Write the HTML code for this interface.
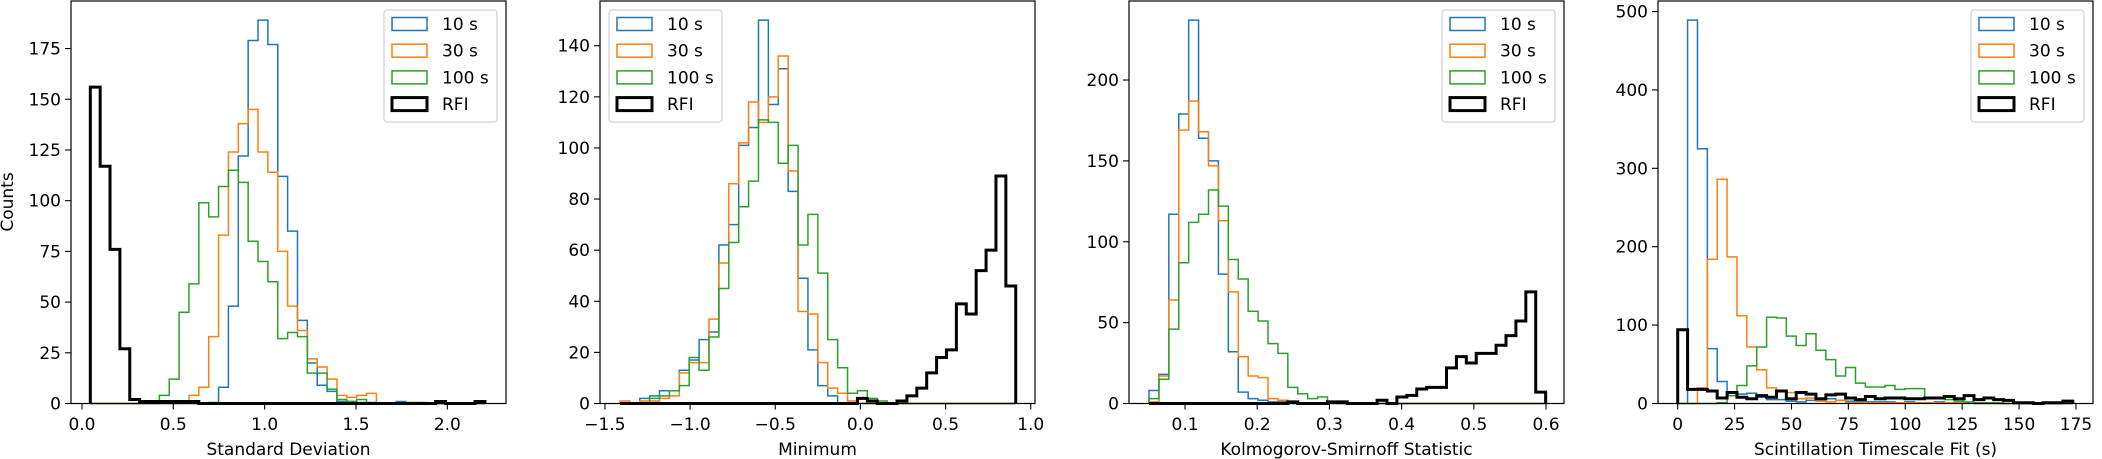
<!DOCTYPE html>
<html><head><meta charset="utf-8">
<style>
html,body{margin:0;padding:0;background:#fff;}
svg{display:block;font-family:"DejaVu Sans","Liberation Sans",sans-serif;}
</style></head>
<body>
<svg id="chart" width="2102" height="459" viewBox="0 0 2102 459" xmlns="http://www.w3.org/2000/svg"></svg>
<script>
// ---------- Panel 1: Standard Deviation ----------
const p1BinStart = 0.0457, p1BinWidth = 0.054;
const p1Blue   = [0,0,0,0,0,0,0,0,0,0,0,0,0.5,8,48,122,179,189,177,112,85,41,20,9,6,1,1,0.5,0.5,0,0,1,0,0,0,0,0,0,0,0];
const p1Orange = [0,0,0,0,0,0,0,0,0,0,4,8,33,83,124,138,145,124,114,75,48,36,22,18,12,4,3,4,5,0,0,0,0,0,0,0,0,0,0,0];
const p1Green  = [0,0,0,0,0,0,0,4,12,45,59,99,92,107,115,109,80,70,60,32,35,33,15,15,7,2,1,2,0,0,0,0,0.5,0.5,0,0,0,0,0,0];
const p1Rfi    = [156,117,76,27,2,1,1,1,1,1,1,0,0,0,0,0,0,0,0,0,0,0,0,0,0,0,0,0,0,0,0,0,0,0,0,1,0,0,0,1];
const p1XTicks = [0.0,0.5,1.0,1.5,2.0];
const p1XTickLabels = ["0.0","0.5","1.0","1.5","2.0"];
const p1YTicks = [0,25,50,75,100,125,150,175];

// ---------- Panel 2: Minimum ----------
const p2BinStart = -1.412, p2BinWidth = 0.0581;
const p2Blue   = [0,0,2,3,5,5,13,17,25,28,62,70,101,108,150,117,131,83,49,21,7,3,0,0,0,0,0,0,0,0,0,0,0,0,0,0,0,0,0,0];
const p2Orange = [1,0,1,1,2,3,12,16,16,33,55,86,102,118,110,120,136,91,36,35,16,6,4,1,0,0,0,0,0,0,0,0,0,0,0,0,0,0,0,0];
const p2Green  = [0,0,0,2,3,5,7,18,13,26,45,63,77,87,111,110,94,101,62,74,51,25,14,4,5,2,1,0,0,0,0,0,0,0,0,0,0,0,0,0];
const p2Rfi    = [0,0,0,0,0,0,0,0,0,0,0,0,0,0,0,0,0,0,0,0,0,0,0,0,2,1,0,0,1,3,6,12,18,21,39,35,52,60,89,46];
const p2XTicks = [-1.5,-1.0,-0.5,0.0,0.5,1.0];
const p2XTickLabels = ["\u22121.5","\u22121.0","\u22120.5","0.0","0.5","1.0"];
const p2YTicks = [0,20,40,60,80,100,120,140];

// ---------- Panel 3: KS statistic ----------
const p3BinStart = 0.0501, p3BinWidth = 0.013735;
const p3Blue   = [8,18,117,179,237,164,150,80,32,7,3,2,1,1,0,0,0,0,0,0,0,0,0,0,0,0,0,0,0,0,0,0,0,0,0,0,0,0,0,0];
const p3Orange = [1,17,64,169,187,168,147,113,69,29,17,16,3,2,1,0,0,0,0,0,0,0,0,0,0,0,0,0,0,0,0,0,0,0,0,0,0,0,0,0];
const p3Green  = [3,15,46,87,112,117,132,122,89,77,57,51,37,31,10,6,3,4,1,0,0,0,0,0,0,0,0,0,0,0,0,0,0,0,0,0,0,0,0,0];
const p3Rfi    = [0,0,0,0,0,0,0,0,0,0,0,0,0,0,1,0,0,0,1,1,0,0,0,2,0,4,5,9,10,10,22,29,25,31,31,36,42,51,69,7];
const p3XTicks = [0.1,0.2,0.3,0.4,0.5,0.6];
const p3XTickLabels = ["0.1","0.2","0.3","0.4","0.5","0.6"];
const p3YTicks = [0,50,100,150,200];

// ---------- Panel 4: Scintillation timescale ----------
const p4BinStart = 0, p4BinWidth = 4.34;
const p4Blue   = [0,489,325,70,28,14,12,13,8,5,5,3,2,4,5,6,4,3,3,2,2,2,1,2,1,1,2,1,1,1,0,1,0,0,0,0,0,0,0,0];
const p4Orange = [0,0,20,184,286,187,112,72,43,20,15,14,6,7,3,2,4,1,1,1,1,1,1,1,1,1,1,1,1,1,0,0,0,0,0,0,0,0,0,0];
const p4Green  = [0,0,0,0,1,10,23,48,72,110,109,86,74,89,68,56,35,46,26,21,21,23,18,19,19,6,7,5,3,2,1,1,1,0,0,0,0,0,0,0];
const p4Rfi    = [94,18,18,16,7,14,8,6,10,8,16,6,14,12,6,11,12,7,5,9,6,7,7,6,6,7,7,9,6,10,5,7,5,4,1,1,0,1,1,3];
const p4XTicks = [0,25,50,75,100,125,150,175];
const p4XTickLabels = ["0","25","50","75","100","125","150","175"];
const p4YTicks = [0,100,200,300,400,500];

const legendLabels = ["10 s","30 s","100 s","RFI"];

const NS = "http://www.w3.org/2000/svg";
const svg = document.getElementById("chart");
const COLORS = ["#1f77b4","#ff7f0e","#2ca02c","#000000"];
const WIDTHS = [1.5,1.5,1.5,3];
const SERIES_NAMES = ["series-10s","series-30s","series-100s","series-rfi"];

function mk(tag, attrs, parent){
  const e = document.createElementNS(NS, tag);
  for (const k in attrs) e.setAttribute(k, attrs[k]);
  (parent||svg).appendChild(e);
  return e;
}

const panels = [
  {name:"std-dev-panel", left:71, xmin:-0.060, xmax:2.321, start:p1BinStart, w:p1BinWidth, series:[p1Blue,p1Orange,p1Green,p1Rfi], xt:p1XTicks, xtl:p1XTickLabels, yt:p1YTicks, xlabel:"Standard Deviation", ylabel:"Counts", legendLeft:false},
  {name:"minimum-panel", left:600, xmin:-1.529, xmax:1.025, start:p2BinStart, w:p2BinWidth, series:[p2Blue,p2Orange,p2Green,p2Rfi], xt:p2XTicks, xtl:p2XTickLabels, yt:p2YTicks, xlabel:"Minimum", ylabel:null, legendLeft:true},
  {name:"ks-statistic-panel", left:1129, xmin:0.0224, xmax:0.6249, start:p3BinStart, w:p3BinWidth, series:[p3Blue,p3Orange,p3Green,p3Rfi], xt:p3XTicks, xtl:p3XTickLabels, yt:p3YTicks, xlabel:"Kolmogorov-Smirnoff Statistic", ylabel:null, legendLeft:false},
  {name:"timescale-panel", left:1658, xmin:-8.66, xmax:182.5, start:p4BinStart, w:p4BinWidth, series:[p4Blue,p4Orange,p4Green,p4Rfi], xt:p4XTicks, xtl:p4XTickLabels, yt:p4YTicks, xlabel:"Scintillation Timescale Fit (s)", ylabel:null, legendLeft:false}
];

const TOP = 1, BOTTOM = 403.5, W = 435;

panels.forEach(p => {
  const g = mk("g", {});
  
  
  let maxv = 0;
  p.series.forEach(s => s.forEach(v => { if (v > maxv) maxv = v; }));
  const ymax = maxv * 1.05;
  const X = v => p.left + (v - p.xmin) / (p.xmax - p.xmin) * W;
  const Y = v => BOTTOM - v / ymax * (BOTTOM - TOP);

  // series
  p.series.forEach((s, si) => {
    let d = "M" + X(p.start).toFixed(2) + "," + Y(0).toFixed(2);
    for (let i = 0; i < s.length; i++) {
      const x0 = X(p.start + i * p.w), x1 = X(p.start + (i + 1) * p.w);
      d += " L" + x0.toFixed(2) + "," + Y(s[i]).toFixed(2) + " L" + x1.toFixed(2) + "," + Y(s[i]).toFixed(2);
    }
    d += " L" + X(p.start + s.length * p.w).toFixed(2) + "," + Y(0).toFixed(2);
    const path = mk("path", {d:d, fill:"none", stroke:COLORS[si], "stroke-width":WIDTHS[si], "stroke-linejoin":"miter"}, g);
    
    
  });

  // frame
  const frame = mk("rect", {x:p.left, y:TOP, width:W, height:BOTTOM-TOP, fill:"none", stroke:"#000", "stroke-width":1.2}, g);
  
  

  // x ticks
  p.xt.forEach((t, i) => {
    const x = X(t);
    const tk = mk("line", {x1:x, x2:x, y1:BOTTOM, y2:BOTTOM+6, stroke:"#000", "stroke-width":1.1}, g);
    
    
    const tl = mk("text", {x:x, y:430, "text-anchor":"middle", "font-size":"17"}, g);
    tl.textContent = p.xtl[i];
    
    
  });
  // y ticks
  p.yt.forEach(t => {
    const y = Y(t);
    const tk = mk("line", {x1:p.left-6, x2:p.left, y1:y, y2:y, stroke:"#000", "stroke-width":1.1}, g);
    
    
    const tl = mk("text", {x:p.left-10, y:y+6, "text-anchor":"end", "font-size":"17"}, g);
    tl.textContent = String(t);
    
    
  });
  // x label
  const xl = mk("text", {x:p.left + W/2, y:455, "text-anchor":"middle", "font-size":"17"}, g);
  xl.textContent = p.xlabel;
  
  
  if (p.ylabel) {
    const yl = mk("text", {x:0, y:0, "text-anchor":"middle", "font-size":"17", transform:"translate(13,202) rotate(-90)"}, g);
    yl.textContent = p.ylabel;
    
    
  }

  // legend
  const lw = 113, lh = 112;
  const lx = p.legendLeft ? p.left + 9 : p.left + W - 9 - lw;
  const ly = 10;
  const lg = mk("g", {}, g);
  
  
  mk("rect", {x:lx, y:ly, width:lw, height:lh, rx:3, fill:"#fff", "fill-opacity":0.8, stroke:"#d0d0d0", "stroke-width":1.2}, lg);
  legendLabels.forEach((lab, i) => {
    const cy = ly + 14 + i * 26.7;
    const it = mk("g", {}, lg);
    
    
    mk("rect", {x:lx+8, y:cy-6.5, width:35, height:13, fill:"none", stroke:COLORS[i], "stroke-width":WIDTHS[i]}, it);
    const tx = mk("text", {x:lx+58, y:cy+6, "font-size":"17"}, it);
    tx.textContent = lab;
  });
});
</script>
</body></html>
